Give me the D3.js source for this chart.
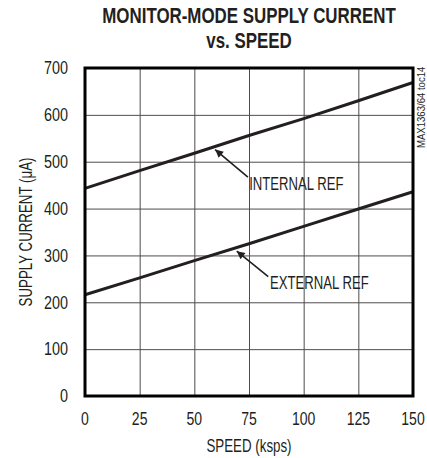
<!DOCTYPE html>
<html>
<head>
<meta charset="utf-8">
<script src="https://cdn.jsdelivr.net/npm/d3@7"></script>
<style>
  body { margin: 0; background: #fff; }
  text { font-family: "Liberation Sans", Arial, sans-serif; fill: #231f20; }
</style>
</head>
<body>
<div id="chart"></div>
<script>
// speed (ksps) vs supply current (uA)
var speeds = [0, 25, 50, 75, 100, 125, 150];
var internalRef = [443, 481, 518, 556, 592, 630, 669];
var externalRef = [216, 252, 289, 325, 362, 399, 436];

var xTicks = [0, 25, 50, 75, 100, 125, 150];
var yTicks = [0, 100, 200, 300, 400, 500, 600, 700];

// label: text, arrow tip/tail and text anchor in data units
var notes = [
    { text: "INTERNAL REF", tip: [59.5, 526], tail: [74.5, 467], at: [75.1, 440] },
    { text: "EXTERNAL REF", tip: [69.4, 309], tail: [83.8, 255], at: [84.6, 228] }
];

var margin = { top: 68, right: 14, bottom: 62, left: 85 };
var width = 427 - margin.left - margin.right;
var height = 458 - margin.top - margin.bottom;

var x = d3.scaleLinear().domain([0, 150]).range([0, width]);
var y = d3.scaleLinear().domain([0, 700]).range([height, 0]);

var svg = d3.select("#chart")
    .append("svg")
    .attr("width", 427)
    .attr("height", 458);

// no narrow font installed, so squeeze Liberation Sans sideways
function label(parent, px, py, str, size, sx, opts) {
    opts = opts || {};
    var t = parent.append("text")
        .attr("transform", "translate(" + px + "," + py + ")" +
              (opts.rotate ? " rotate(" + opts.rotate + ")" : "") +
              " scale(" + sx + ",1)")
        .attr("text-anchor", opts.anchor || "start")
        .style("font-size", size + "px")
        .text(str);
    if (opts.bold) t.style("font-weight", "bold");
    if (opts.dy) t.attr("dy", opts.dy);
    return t;
}

svg.append("defs").append("marker")
    .attr("id", "head")
    .attr("viewBox", "0 0 10 10")
    .attr("refX", 10)
    .attr("refY", 5)
    .attr("markerWidth", 11)
    .attr("markerHeight", 8)
    .attr("markerUnits", "userSpaceOnUse")
    .attr("orient", "auto")
    .append("path")
    .attr("d", "M0,0 L10,5 L0,10 Z")
    .attr("fill", "#231f20");

// title
var cx = margin.left + width / 2;
label(svg, cx, 23, "MONITOR-MODE SUPPLY CURRENT", 21.4, 0.79, { anchor: "middle", bold: true });
label(svg, cx, 48, "vs. SPEED", 21.4, 0.79, { anchor: "middle", bold: true });

var fig = svg.append("g")
    .attr("transform", "translate(" + margin.left + "," + margin.top + ")");

// grid
fig.append("g")
    .attr("transform", "translate(0," + height + ")")
    .call(d3.axisBottom(x).tickValues(xTicks).tickSize(-height).tickFormat(""))
    .call(g => g.select(".domain").remove())
    .selectAll("line").attr("stroke", "#4d4d4d").attr("stroke-width", 1);

fig.append("g")
    .call(d3.axisLeft(y).tickValues(yTicks).tickSize(-width).tickFormat(""))
    .call(g => g.select(".domain").remove())
    .selectAll("line").attr("stroke", "#4d4d4d").attr("stroke-width", 1);

// tick labels
xTicks.forEach(v => label(fig, x(v), height + 29, v, 18, 0.78, { anchor: "middle" }));
yTicks.forEach(v => label(fig, -17, y(v), v, 18, 0.8, { anchor: "end", dy: "0.35em" }));

// lines
var line = d3.line()
    .x((d, i) => x(speeds[i]))
    .y(d => y(d));

[internalRef, externalRef].forEach(s => {
    fig.append("path")
        .datum(s)
        .attr("d", line)
        .attr("fill", "none")
        .attr("stroke", "#231f20")
        .attr("stroke-width", 3);
});

// frame
fig.append("rect")
    .attr("width", width)
    .attr("height", height)
    .attr("fill", "none")
    .attr("stroke", "#000")
    .attr("stroke-width", 3);

// annotations
notes.forEach(n => {
    fig.append("line")
        .attr("x1", x(n.tail[0]))
        .attr("y1", y(n.tail[1]))
        .attr("x2", x(n.tip[0]))
        .attr("y2", y(n.tip[1]))
        .attr("stroke", "#231f20")
        .attr("stroke-width", 1.6)
        .attr("marker-end", "url(#head)");
    label(fig, x(n.at[0]), y(n.at[1]), n.text, 18.5, 0.71);
});

// axis titles
label(svg, cx, 452, "SPEED (ksps)", 18.5, 0.72, { anchor: "middle" });
label(svg, 32, margin.top + height / 2, "SUPPLY CURRENT (\u03bcA)", 18.5, 0.72,
      { anchor: "middle", rotate: -90 });

// part number
label(svg, 425, 148, "MAX1363/64 toc14", 11, 0.87, { rotate: -90 });
</script>
</body>
</html>
